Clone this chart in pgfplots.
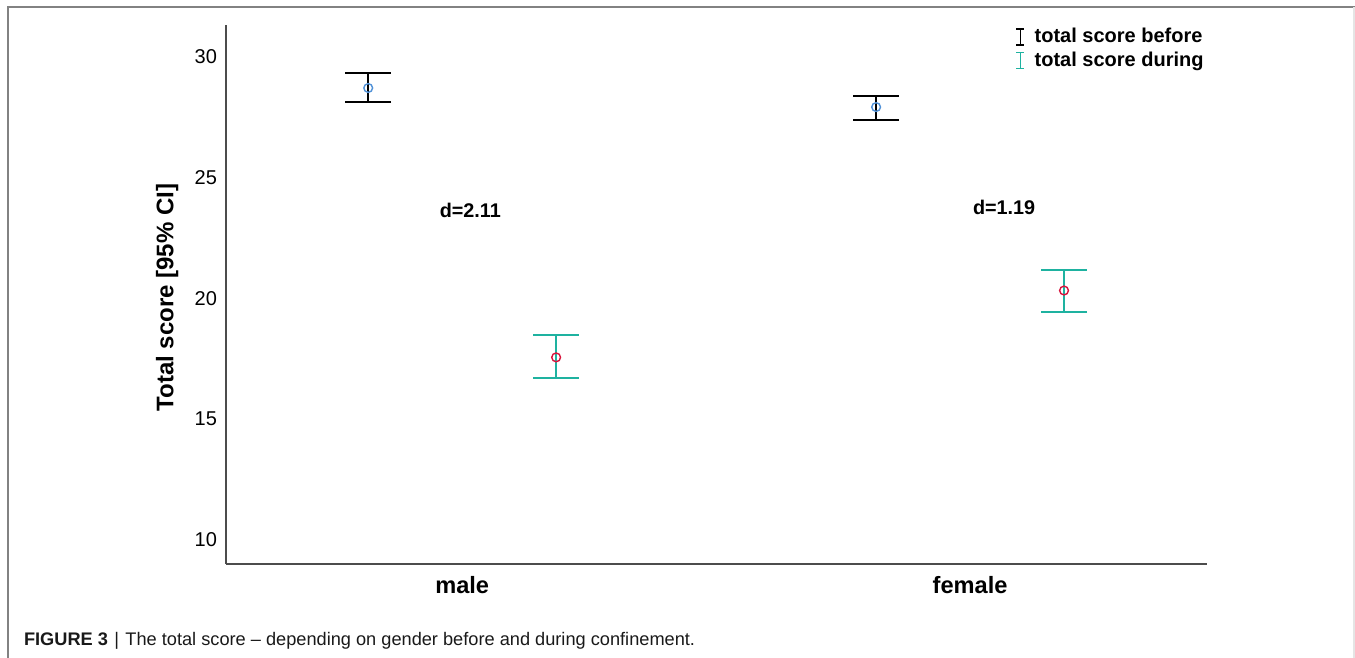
\documentclass[border=0pt]{standalone}
\usepackage{fontspec}
\setmainfont{Liberation Sans}
\usepackage{pgfplots}
\pgfplotsset{compat=1.18}

\definecolor{teal}{RGB}{30,178,160}
\definecolor{dotblue}{RGB}{80,145,215}
\definecolor{dotred}{RGB}{215,20,60}
\definecolor{framegray}{RGB}{130,130,130}

% one pixel of the reference = 0.5pt
\begin{document}
\begin{tikzpicture}
\useasboundingbox (0,0) rectangle (677.5pt,329pt);
\draw[framegray, line width=0.8pt] (4pt,0) -- (4pt,325.5pt) -- (677.5pt,325.5pt);
\draw[gray!20, line width=0.6pt] (677pt,0) -- (677pt,325.5pt);

\begin{axis}[
  at={(113pt,47pt)}, anchor=south west,
  scale only axis,
  width=490.5pt, height=269.5pt,
  xmin=0.535, xmax=2.4665,
  ymin=9, ymax=31.33,
  axis x line=bottom, axis y line=left,
  axis line style={-, black!70, line width=0.6pt},
  major tick length=0pt,
  xtick={1,2}, xticklabels={male,female},
  ytick={10,15,20,25,30},
  /pgf/number format/assume math mode=true,
  yticklabel style={font=\fontsize{10}{12}\selectfont, xshift=-1pt},
  xticklabel style={font=\fontsize{11.8}{14}\selectfont\bfseries, yshift=-2.5pt},
  ylabel={Total score [95\% CI]},
  every axis y label/.style={at={(axis description cs:-0.06,0.494)}, rotate=90, anchor=center,
    font=\fontsize{12}{14}\selectfont\bfseries},
  legend style={at={(axis description cs:1,1)}, anchor=north east, draw=none, fill=none,
    font=\fontsize{10}{12}\selectfont\bfseries, row sep=0pt, inner sep=0pt,
    nodes={inner sep=1.5pt}},
  legend cell align=left,
  clip=false,
]

% before confinement
\addplot+[only marks, mark=o, mark size=2.2pt, mark options={draw=dotblue, line width=0.7pt},
  legend image code/.code={
    \draw[black, line width=0.7pt] (2.5pt,-4pt) -- (2.5pt,4pt)
      (0.5pt,-4pt) -- (4.5pt,-4pt) (0.5pt,4pt) -- (4.5pt,4pt);
    \path (8pt,0pt);},
  error bars/.cd, y dir=both, y explicit,
  error bar style={black, line width=1pt},
  error mark options={rotate=90, black, line width=1pt, mark size=11.5pt},
  ]
  coordinates {
  (0.815, 28.72) += (0,0.62) -= (0,0.58)
  (1.815, 27.93) += (0,0.46) -= (0,0.54)
  };
\addlegendentry{total score before}

% during confinement
\addplot+[only marks, mark=o, mark size=2.2pt, mark options={draw=dotred, line width=0.7pt},
  legend image code/.code={
    \draw[teal, line width=0.7pt] (2.5pt,-4pt) -- (2.5pt,4pt)
      (0.5pt,-4pt) -- (4.5pt,-4pt) (0.5pt,4pt) -- (4.5pt,4pt);
    \path (8pt,0pt);},
  error bars/.cd, y dir=both, y explicit,
  error bar style={teal, line width=1pt},
  error mark options={rotate=90, teal, line width=1pt, mark size=11.5pt},
  ]
  coordinates {
  (1.185, 17.56) += (0,0.91) -= (0,0.87)
  (2.185, 20.33) += (0,0.83) -= (0,0.87)
  };
\addlegendentry{total score during}

\node[font=\fontsize{9.9}{12}\selectfont\bfseries] at (axis cs:1.016,23.63) {d=2.11};
\node[font=\fontsize{9.9}{12}\selectfont\bfseries] at (axis cs:2.067,23.76) {d=1.19};
\end{axis}

\node[anchor=base west, font=\fontsize{9.1}{10}\selectfont, text=black!90] at (8.5pt,6pt)
  {\textbf{FIGURE 3}\hspace{0.35em}|\hspace{0.35em}The total score – depending on gender before and during confinement.};
\end{tikzpicture}
\end{document}
